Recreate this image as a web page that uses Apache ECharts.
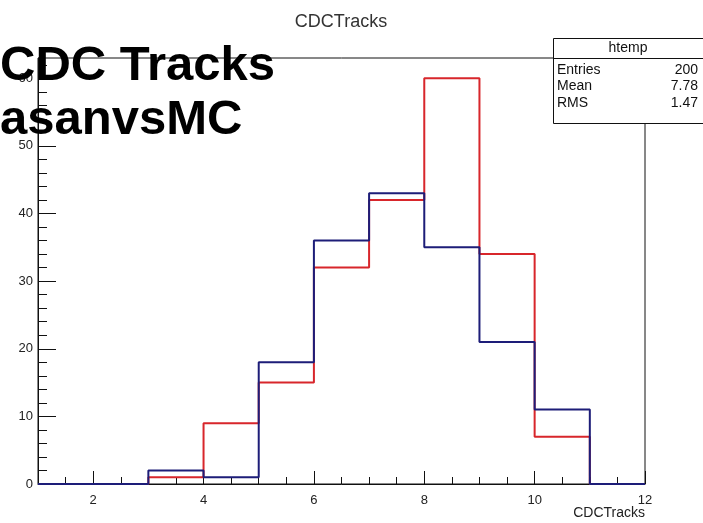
<!DOCTYPE html>
<html>
<head>
<meta charset="utf-8">
<script src="https://cdn.jsdelivr.net/npm/echarts@6/dist/echarts.min.js"></script>
<style>
html,body{margin:0;padding:0;background:#fff;}
#c{width:703px;height:523px;}
</style>
</head>
<body>
<div id="c"></div>
<script>
// Bin lower edges (bins are 1 unit wide) and the upper edge of the last bin
var binEdges = [1, 2, 3, 4, 5, 6, 7, 8, 9, 10, 11];
var lastEdge = 12;
// Counts per bin
var redCounts  = [0, 0, 1, 9, 15, 32, 42, 60, 34, 7, 0];
var blueCounts = [0, 0, 2, 1, 18, 36, 43, 35, 21, 11, 0];
// Tick labels
var xMajorTicks = [2, 4, 6, 8, 10, 12];
var xMinorTicks = [1.5, 2.5, 3, 3.5, 4.5, 5, 5.5, 6.5, 7, 7.5, 8.5, 9, 9.5, 10.5, 11, 11.5];
var yMajorTicks = [0, 10, 20, 30, 40, 50, 60];
var yMinorTicks = [2, 4, 6, 8, 12, 14, 16, 18, 22, 24, 26, 28, 32, 34, 36, 38, 42, 44, 46, 48, 52, 54, 56, 58, 62];
// Texts
var xAxisTitle = 'CDCTracks';
var histTitle = 'CDCTracks';
var bigTitleLines = ['CDC Tracks', 'asanvsMC'];
// Stats box
var statsName = 'htemp';
var statsRows = [['Entries', '200'], ['Mean', '7.78'], ['RMS', '1.47']];

function histData(counts) {
  var d = binEdges.map(function (e, i) { return [e, counts[i]]; });
  d.push([lastEdge, 0]);
  return d;
}

var font = 'Liberation Sans, Arial, Helvetica, sans-serif';
var chart = echarts.init(document.getElementById('c'), null, {renderer: 'canvas'});

var statsGraphics = [
  {type: 'rect', z: 50, shape: {x: 553.5, y: 38.5, width: 160, height: 85},
   style: {fill: '#fff', stroke: '#111', lineWidth: 1}},
  {type: 'line', z: 51, shape: {x1: 553.5, y1: 58.5, x2: 703, y2: 58.5},
   style: {stroke: '#111', lineWidth: 1}},
  {type: 'text', z: 52, x: 628, y: 48, style: {text: statsName, font: '14px ' + font, fill: '#111', align: 'center', verticalAlign: 'middle'}}
];
statsRows.forEach(function (r, i) {
  var y = 70 + i * 16.5;
  statsGraphics.push({type: 'text', z: 52, x: 557, y: y, style: {text: r[0], font: '14px ' + font, fill: '#111', align: 'left', verticalAlign: 'middle'}});
  statsGraphics.push({type: 'text', z: 52, x: 698, y: y, style: {text: r[1], font: '14px ' + font, fill: '#111', align: 'right', verticalAlign: 'middle'}});
});

var option = {
  backgroundColor: '#fff',
  animation: false,
  grid: {left: 38, right: 58, top: 58, bottom: 39, show: true, borderColor: '#111', borderWidth: 1,
         backgroundColor: 'transparent', containLabel: false, outerBoundsMode: 'none'},
  xAxis: [{
    type: 'value', min: 1, max: 12, position: 'bottom',
    axisLine: {onZero: false, lineStyle: {color: '#111', width: 1}},
    axisTick: {inside: true, length: 13, customValues: xMajorTicks, lineStyle: {color: '#111'}},
    axisLabel: {customValues: xMajorTicks, color: '#222', fontSize: 13, fontFamily: font, margin: 10},
    splitLine: {show: false}
  }, {
    type: 'value', min: 1, max: 12, position: 'bottom',
    axisLine: {show: false},
    axisTick: {inside: true, length: 7, customValues: xMinorTicks, lineStyle: {color: '#111'}},
    axisLabel: {show: false},
    splitLine: {show: false}
  }],
  yAxis: [{
    type: 'value', min: 0, max: 63, position: 'left',
    axisLine: {show: true, onZero: false, lineStyle: {color: '#111', width: 1}},
    axisTick: {show: true, inside: true, length: 18, customValues: yMajorTicks, lineStyle: {color: '#111'}},
    axisLabel: {customValues: yMajorTicks, color: '#222', fontSize: 13, fontFamily: font, margin: 5},
    splitLine: {show: false}
  }, {
    type: 'value', min: 0, max: 63, position: 'left',
    axisLine: {show: false},
    axisTick: {show: true, inside: true, length: 9, customValues: yMinorTicks, lineStyle: {color: '#111'}},
    axisLabel: {show: false},
    splitLine: {show: false}
  }],
  series: [{
    type: 'line', step: 'end', xAxisIndex: 0, yAxisIndex: 0,
    data: histData(redCounts), showSymbol: false, symbol: 'none',
    lineStyle: {color: '#d8262b', width: 2}, z: 3
  }, {
    type: 'line', step: 'end', xAxisIndex: 0, yAxisIndex: 0,
    data: histData(blueCounts), showSymbol: false, symbol: 'none',
    lineStyle: {color: '#1d1d78', width: 2}, z: 4
  }],
  graphic: [
    {type: 'text', z: 40, x: 341, y: 22, style: {text: histTitle, font: '18px ' + font, fill: '#333', align: 'center', verticalAlign: 'middle'}},
    {type: 'text', z: 40, x: 645, y: 513, style: {text: xAxisTitle, font: '14px ' + font, fill: '#222', align: 'right', verticalAlign: 'middle'}}
  ].concat(statsGraphics).concat([
    {type: 'text', z: 100, x: 0, y: 42, style: {text: bigTitleLines[0], font: 'bold 49px ' + font, fill: '#000', align: 'left', verticalAlign: 'alphabetic'}},
    {type: 'text', z: 100, x: 0, y: 96, style: {text: bigTitleLines[1], font: 'bold 49px ' + font, fill: '#000', align: 'left', verticalAlign: 'alphabetic'}}
  ])
};
chart.setOption(option);
</script>
</body>
</html>
